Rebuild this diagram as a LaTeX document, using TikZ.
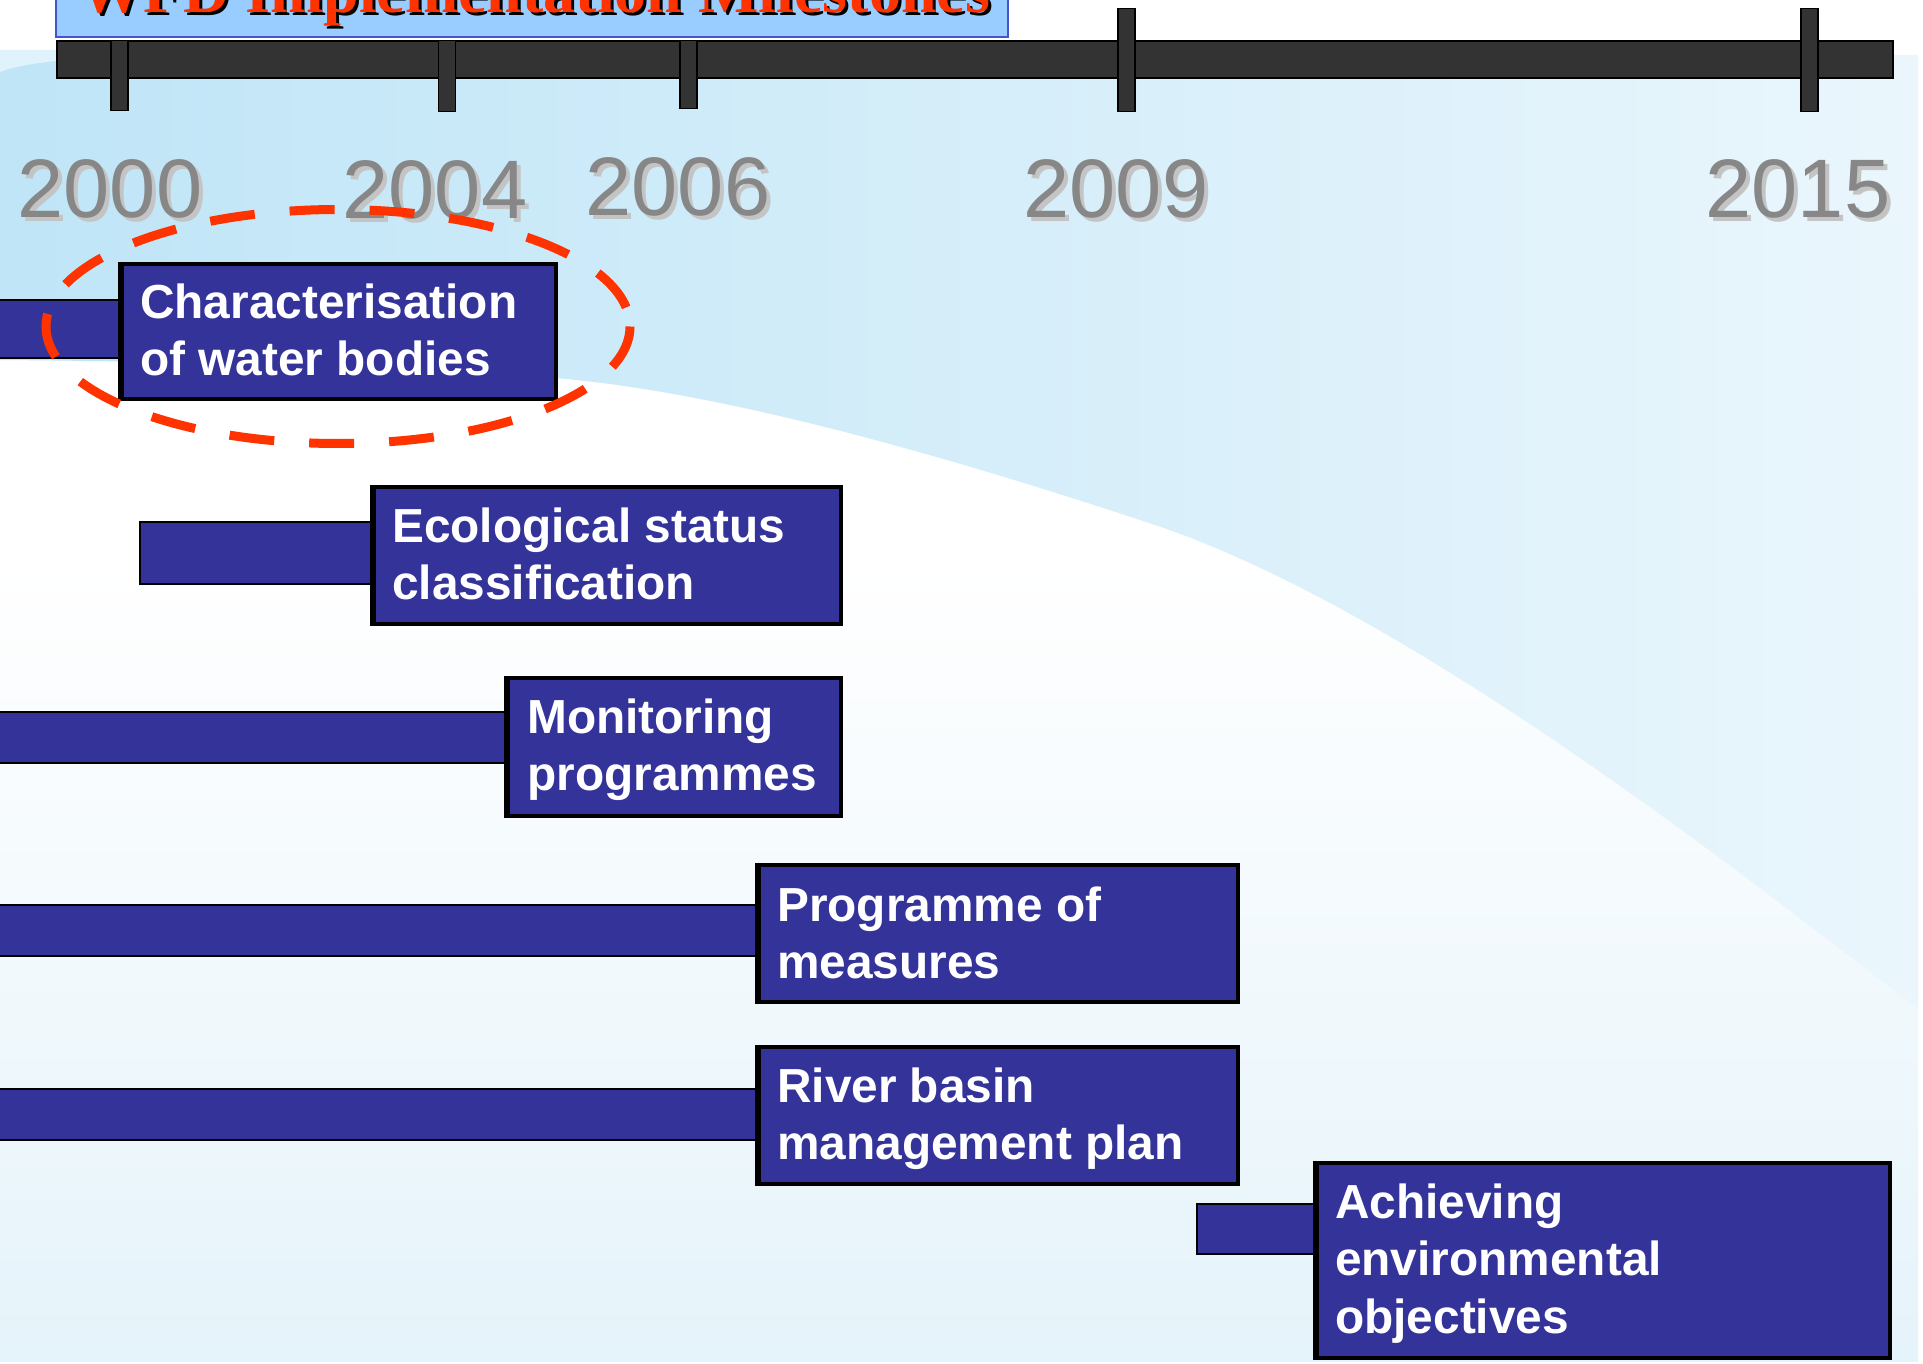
\documentclass[tikz,border=0pt]{standalone}
\usepackage{fontspec}
\setmainfont{Liberation Sans}
\newfontfamily\titlefont{Liberation Serif}
\usetikzlibrary{calc}
\definecolor{boxblue}{HTML}{333399}
\definecolor{skyL}{HTML}{BFE5F7}
\definecolor{skyR}{HTML}{EAF6FC}
\definecolor{skyband}{HTML}{E0F2FB}
\definecolor{lowblue}{HTML}{E5F3FA}
\definecolor{yeargray}{HTML}{878787}
\definecolor{yearshadow}{HTML}{C4C4C4}
\definecolor{titlefill}{HTML}{99CCFF}
\definecolor{titleedge}{HTML}{4455CC}
\definecolor{titlered}{HTML}{FF3300}
\definecolor{ellred}{HTML}{FF3300}
\definecolor{axisgray}{HTML}{333333}
\begin{document}
\begin{tikzpicture}[x=1pt,y=-1pt,
  stagebox/.style={draw=black, line width=4pt, fill=boxblue, anchor=north west, inner sep=0pt},
  stagelbl/.style={anchor=base west, inner sep=0pt, text=white, align=left,
                   font=\fontsize{47.8}{57.5}\selectfont\bfseries},
  stagebar/.style={draw=black, line width=2pt, fill=boxblue},
  yearlbl/.style={anchor=base, inner sep=0pt, text=yeargray, font=\fontsize{83}{90}\selectfont},
  yearshd/.style={yearlbl, text=yearshadow},
  tickmark/.style={draw=black, line width=1.5pt, fill=axisgray, anchor=north, inner sep=0pt, minimum width=17pt},
]
\useasboundingbox (0,0) rectangle (1923,1364);
% ---------- background ----------
\fill[white] (0,0) rectangle (1923,1364);
\shade[top color=white, bottom color=lowblue] (0,560) rectangle (1918,1361);
\shade[left color=skyL, right color=skyR]
  (0,50) -- (1918,55) -- (1918,1009)
  .. controls (1700,840) and (1400,610) .. (1161,527)
  .. controls (900,440) and (700,390) .. (555,378)
  .. controls (450,370) and (250,362) .. (0,360) -- cycle;
\fill[skyband] (0,50) -- (300,50) .. controls (120,52) and (30,60) .. (0,72) -- cycle;
% ---------- timeline ----------
\node[draw=black, line width=2pt, fill=axisgray, anchor=north west, inner sep=0pt,
      minimum width=1836pt, minimum height=37pt] (axis) at (56,40) {};
\node[tickmark, minimum height=70pt] (k2000) at (119.5,40) {};
\node[tickmark, minimum height=71pt] (k2004) at (447,40) {};
\node[tickmark, minimum height=68pt] (k2006) at (688.5,40) {};
\node[tickmark, minimum height=103pt] (k2009) at (1126.5,8) {};
\node[tickmark, minimum height=103pt] (k2015) at (1809.5,8) {};
% ---------- title ----------
\node[draw=titleedge, line width=2pt, fill=titlefill, anchor=south west, inner sep=0pt,
      minimum width=952pt, minimum height=80pt] (titlebox) at (55,38) {};
\node[anchor=base, inner sep=0pt, text=black, font=\titlefont\bfseries\fontsize{64}{70}\selectfont]
  (titleshd) at (538,16) {WFD Implementation Milestones};
\node[anchor=base, inner sep=0pt, text=titlered, font=\titlefont\bfseries\fontsize{64}{70}\selectfont]
  (title) at (535,13) {WFD Implementation Milestones};
% ---------- years ----------
\node[yearshd] (s2000) at (114,222) {2000};
\node[yearlbl] (y2000) at (110,218) {2000};
\node[yearshd] (s2004) at (439,223) {2004};
\node[yearlbl] (y2004) at (435,219) {2004};
\node[yearshd] (s2006) at (682,220) {2006};
\node[yearlbl] (y2006) at (678,216) {2006};
\node[yearshd] (s2009) at (1120,222) {2009};
\node[yearlbl] (y2009) at (1116,218) {2009};
\node[yearshd] (s2015) at (1802,222) {2015};
\node[yearlbl] (y2015) at (1798,218) {2015};
% ---------- stage boxes ----------
\node[stagebox, minimum width=434pt, minimum height=135pt] (b1) at (120,262) {};
\node[stagebox, minimum width=467pt, minimum height=137pt] (b2) at (372,485) {};
\node[stagebox, minimum width=333pt, minimum height=138pt] (b3) at (506,676) {};
\node[stagebox, minimum width=479pt, minimum height=137pt] (b4) at (757,863) {};
\node[stagebox, minimum width=479pt, minimum height=137pt] (b5) at (757,1045) {};
\node[stagebox, minimum width=573pt, minimum height=195pt] (b6) at (1315,1161) {};
% ---------- bars leading into the boxes ----------
\draw[stagebar] (-5,300) rectangle (b1.west |- 0,358);
\draw[stagebar] (140,522) rectangle (b2.west |- 0,584);
\draw[stagebar] (-5,712) rectangle (b3.west |- 0,763);
\draw[stagebar] (-5,905) rectangle (b4.west |- 0,956);
\draw[stagebar] (-5,1089) rectangle (b5.west |- 0,1140);
\draw[stagebar] (1197,1204) rectangle (b6.west |- 0,1254);
% box borders over the bar ends
\foreach \b in {b1,b2,b3,b4,b5,b6}{
  \draw[black, line width=4pt] (\b.north west) -- (\b.south west);
}
% ---------- labels (anchor = baseline of last line) ----------
\node[stagelbl] (t1) at (140,375.5) {Characterisation\\of water bodies};
\node[stagelbl] (t2) at (392,599.5) {Ecological status\\classification};
\node[stagelbl] (t3) at (527,790.5) {Monitoring\\programmes};
\node[stagelbl] (t4) at (777,978.5) {Programme of\\measures};
\node[stagelbl] (t5) at (777,1159.5) {River basin\\management plan};
\node[stagelbl] (t6) at (1335,1333) {Achieving\\environmental\\objectives};
% ---------- highlight ----------
\draw[ellred, line width=9pt, dash pattern=on 45pt off 35pt]
  (338,326.5) ellipse [x radius=292, y radius=117];
\end{tikzpicture}
\end{document}
